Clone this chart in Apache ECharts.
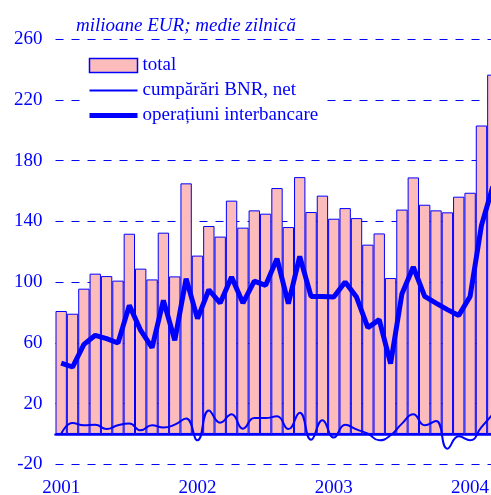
<!DOCTYPE html>
<html>
<head>
<meta charset="utf-8">
<script src="https://cdn.jsdelivr.net/npm/echarts@6/dist/echarts.min.js"></script>
<style>
  html, body { margin: 0; padding: 0; background: #fff; }
  #chart { width: 491px; height: 495px; }
</style>
</head>
<body>
<div id="chart"></div>
<script>
// luni ian 2001 - mar 2004
const months = [
  '2001-01', '2001-02', '2001-03', '2001-04', '2001-05', '2001-06', '2001-07', '2001-08', '2001-09', '2001-10', '2001-11', '2001-12',
  '2002-01', '2002-02', '2002-03', '2002-04', '2002-05', '2002-06', '2002-07', '2002-08', '2002-09', '2002-10', '2002-11', '2002-12',
  '2003-01', '2003-02', '2003-03', '2003-04', '2003-05', '2003-06', '2003-07', '2003-08', '2003-09', '2003-10', '2003-11', '2003-12',
  '2004-01', '2004-02', '2004-03'
];
const totalVals = [81.0, 79.2, 95.7, 105.6, 104.0, 101.0, 131.9, 108.9, 101.8, 132.6, 103.8, 165.1,
  117.5, 137.0, 130.0, 153.7, 135.9, 147.3, 145.1, 162.0, 136.3, 169.2, 146.2, 157.0,
  141.8, 148.8, 142.2, 124.7, 132.1, 102.7, 147.8, 169.0, 151.0, 147.3, 146.0, 156.3,
  158.9, 203.2, 236.7];
const bnrVals = [0, 7.2, 5.7, 6.1, 3.2, 5.7, 6.8, 2.4, 5.7, 4.2, 6.1, 10.1,
  -4.2, 15.5, 7.4, 12.9, 3.5, 10.5, 10.5, 11.6, 3.2, 14.0, -3.8, 9.0,
  -2.4, 6.1, 3.0, 0.2, -4.2, -0.9, 6.8, 12.9, 5.7, 8.5, -9.7, -1.6,
  -4.2, 4.5, 13.0];
const interVals = [46.7, 44.1, 59.0, 65.0, 62.8, 59.9, 84.7, 68.2, 56.9, 88.0, 61.7, 102.3,
  76.0, 95.0, 86.2, 103.4, 86.2, 100.7, 97.9, 115.5, 85.8, 117.0, 90.6, 90.6,
  90.2, 100.1, 90.2, 70.0, 75.3, 46.3, 92.4, 110.0, 90.6, 86.2, 81.9, 78.1,
  90.6, 137.4, 163.0];
const seriesNames = ['total', 'cumpărări BNR, net', 'operațiuni interbancare'];

const BLUE = '#0000ff';
const PINK = '#fcbcbc';
const FONT = '"Liberation Serif", "DejaVu Serif", serif';

const myChart = echarts.init(document.getElementById('chart'), null, { renderer: 'canvas' });
const option = {
  animation: false,
  title: {
    text: 'milioane EUR; medie zilnică',
    left: 76,
    top: 16,
    padding: 0,
    textStyle: {
      fontFamily: FONT,
      fontStyle: 'italic',
      fontWeight: 'normal',
      fontSize: 19,
      color: BLUE
    }
  },
  legend: {
    orient: 'vertical',
    left: 80,
    top: 50,
    padding: [6, 8, 6, 7],
    backgroundColor: '#ffffff',
    itemWidth: 48,
    itemHeight: 14,
    itemGap: 6,
    textStyle: {
      fontFamily: FONT,
      fontSize: 19,
      color: BLUE
    },
    data: [
      { name: seriesNames[0], icon: 'rect', itemStyle: { borderColor: BLUE, borderWidth: 1.5 } },
      { name: seriesNames[1], itemStyle: { opacity: 0 }, lineStyle: { color: BLUE, width: 2 } },
      { name: seriesNames[2], itemStyle: { opacity: 0 }, lineStyle: { color: BLUE, width: 5 } }
    ]
  },
  grid: {
    left: 55.5,
    top: 39.3,
    width: 443,
    height: 425,
    containLabel: false,
    outerBoundsMode: 'none'
  },
  xAxis: {
    type: 'category',
    data: months,
    boundaryGap: true,
    z: 5,
    axisLine: {
      onZero: true,
      lineStyle: { color: BLUE, width: 2.5 }
    },
    axisTick: { show: false },
    axisLabel: {
      margin: 14,
      interval: 0,
      fontFamily: FONT,
      fontSize: 19,
      color: BLUE,
      formatter: function (val) {
        return val.slice(5) === '01' ? val.slice(0, 4) : '';
      }
    },
    splitLine: { show: false }
  },
  yAxis: {
    type: 'value',
    min: -20,
    max: 260,
    interval: 40,
    axisLine: { show: false },
    axisTick: { show: false },
    axisLabel: {
      margin: 13,
      fontFamily: FONT,
      fontSize: 19,
      color: BLUE
    },
    splitLine: {
      lineStyle: {
        color: BLUE,
        width: 1,
        type: [8, 8]
      }
    }
  },
  series: [
    {
      name: seriesNames[0],
      type: 'bar',
      data: totalVals,
      barCategoryGap: '0%',
      itemStyle: {
        color: PINK,
        borderColor: BLUE,
        borderWidth: 1
      }
    },
    {
      name: seriesNames[1],
      type: 'line',
      data: bnrVals,
      smooth: 0.5,
      symbol: 'none',
      z: 6,
      lineStyle: { color: BLUE, width: 2 },
      itemStyle: { color: BLUE }
    },
    {
      name: seriesNames[2],
      type: 'line',
      data: interVals,
      symbol: 'none',
      z: 6,
      lineStyle: { color: BLUE, width: 5 },
      itemStyle: { color: BLUE }
    }
  ]
};
myChart.setOption(option);
window.addEventListener('resize', () => {
  myChart.resize();
});
</script>
</body>
</html>
